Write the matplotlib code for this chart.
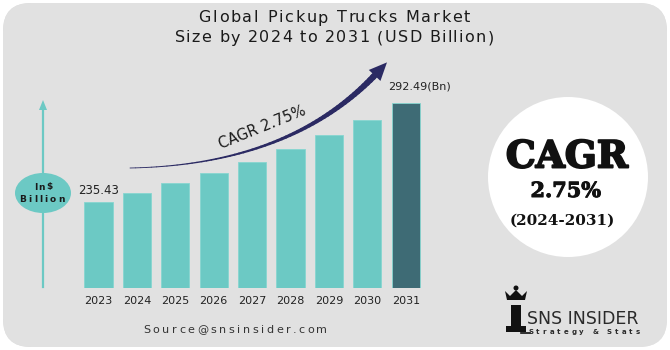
import numpy as np
import matplotlib
matplotlib.use("Agg")
import matplotlib.pyplot as plt
import matplotlib.patheffects as pe
from matplotlib.font_manager import FontProperties
from matplotlib.patches import FancyBboxPatch, Ellipse, Circle, Polygon, Rectangle

# data
years = ["2023", "2024", "2025", "2026", "2027", "2028", "2029", "2030", "2031"]
values = [235.43, 240.6, 246.3, 252.1, 258.4, 265.9, 274.0, 282.6, 292.49]
first_label = "235.43"
last_label = "292.49(Bn)"

title_lines = ["Global Pickup Trucks Market", "Size by 2024 to 2031 (USD Billion)"]
cagr_text = "CAGR 2.75%"
source = "Source@snsinsider.com"

TEAL = "#6cc9c4"
DARK = "#3e6b75"
NAVY = "#2b2a63"

W, H = 670, 350
fig = plt.figure(figsize=(6.7, 3.5), dpi=100)
fig.patch.set_facecolor("white")
renderer = fig.canvas.get_renderer()

# full-figure overlay in pixel coordinates (y downward)
ov = fig.add_axes([0, 0, 1, 1], zorder=0)
ov.set_xlim(0, W)
ov.set_ylim(H, 0)
ov.axis("off")


def tracked(xc, y, s, track, size, color="#1a1a1a", weight="normal", family="DejaVu Sans", z=3):
    """draw text centred at xc with extra letter spacing (pixels)"""
    prop = FontProperties(family=family, size=size, weight=weight)
    def wid(t):
        if not t:
            return 0.0
        w, _, _ = renderer.get_text_width_height_descent(t.replace(" ", "\u00a0"), prop, ismath=False)
        return w
    total = wid(s) + track * (len(s) - 1)
    x0 = xc - total / 2
    for i, ch in enumerate(s):
        ov.text(x0 + wid(s[:i]) + i * track, y, ch, ha="left", va="center",
                fontproperties=prop, color=color, zorder=z)


# rounded grey card with a soft gradient
card = FancyBboxPatch((3, 3), W - 6, H - 6, boxstyle="round,pad=0,rounding_size=28",
                      fc="#e1e1e1", ec="none")
ov.add_patch(card)
gx, gy = np.meshgrid(np.linspace(0, 1, 200), np.linspace(0, 1, 100))
shade = 0.865 + 0.05 * np.exp(-((gx - 0.62) ** 2 / 0.05 + (gy - 0.25) ** 2 / 0.3)) \
        + 0.04 * np.exp(-((gx - 0.85) ** 2 / 0.03 + (gy - 0.9) ** 2 / 0.1))
img = ov.imshow(shade, cmap="gray", vmin=0, vmax=1, extent=(0, W, H, 0), aspect="auto", zorder=0.5)
img.set_clip_path(card)

# title
tracked(334, 18, title_lines[0], 1.8, 11.5)
tracked(334, 38, title_lines[1], 1.3, 11.5)

# left axis line with arrow and unit bubble
ov.plot([43, 43], [287, 108], color=TEAL, lw=1.6, zorder=2)
ov.add_patch(Polygon([[39, 110], [47, 110], [43, 100]], closed=True, fc=TEAL, ec="none", zorder=2))
ov.add_patch(Ellipse((43, 193), 56, 40, fc=TEAL, ec="none", zorder=3))
tracked(43, 187, "In$", 1.2, 6.5, weight="bold", z=4)
tracked(42, 199, "Billion", 2.2, 6.5, weight="bold", z=4)

# growth arrow (quadratic curve, tapering)
p0, p1, p2 = np.array([130, 168]), np.array([290, 165]), np.array([376, 74])
t = np.linspace(0, 1, 60)
pts = ((1 - t) ** 2)[:, None] * p0 + (2 * (1 - t) * t)[:, None] * p1 + (t ** 2)[:, None] * p2
for i in range(len(pts) - 1):
    ov.plot(pts[i:i + 2, 0], pts[i:i + 2, 1], color=NAVY, lw=0.6 + 4.0 * t[i] ** 1.5,
            solid_capstyle="round", zorder=2)
d = p2 - p1
d = d / np.hypot(*d)
n = np.array([-d[1], d[0]])
tip = p2 + d * 16
ov.add_patch(Polygon([tip, p2 + n * 8 - d * 2, p2 - n * 8 - d * 2], closed=True, fc=NAVY, ec="none", zorder=2))
ov.text(262, 127, cagr_text, ha="center", va="center", rotation=22, fontsize=10.5,
        color="#1a1a1a", zorder=3)

# CAGR circle
heavy = [pe.withStroke(linewidth=1.4, foreground="#111111")]
ov.add_patch(Circle((568, 177), 80, fc="white", ec="none", zorder=2))
ov.text(567, 157, "CAGR", ha="center", va="center", fontsize=27, weight="bold",
        family="DejaVu Serif", color="#111111", zorder=3, path_effects=heavy)
ov.text(566, 191, "2.75%", ha="center", va="center", fontsize=15, weight="bold",
        family="DejaVu Serif", color="#111111", zorder=3,
        path_effects=[pe.withStroke(linewidth=0.7, foreground="#111111")])
ov.text(562, 221, "(2024-2031)", ha="center", va="center", fontsize=11, weight="bold",
        family="DejaVu Serif", color="#111111", zorder=3)

# source line with wide tracking
tracked(235, 330, source, 2.6, 8, color="#333333")

# logo
ov.add_patch(Rectangle((511, 305), 10, 26, fc="#111111", ec="none", zorder=3))
ov.add_patch(Rectangle((506, 326), 20, 6, fc="#111111", ec="none", zorder=3))
ov.add_patch(Polygon([[507, 300], [525, 300], [527, 291], [522, 296], [516, 290], [510, 296], [505, 291]],
                     closed=True, fc="#111111", ec="none", zorder=3))
ov.add_patch(Circle((516, 288), 2.5, fc="#111111", ec="none", zorder=3))
ov.plot([521, 530], [333, 333], color="#111111", lw=1.2, zorder=3)
ov.text(527, 319, "SNS INSIDER", ha="left", va="center", fontsize=12.5, color="#2a2a2a", zorder=3)
tracked(584, 332, "Strategy & Stats", 3.0, 5, weight="bold", color="#2a2a2a")

# bar chart axes positioned in pixels
step_px = 38.4
left_px = 98.5 - 0.5 * step_px
width_px = 9 * step_px
base_px, top_px = 288, 60
px_per_unit = 1.735
ymin = 235.43 - (base_px - 202) / px_per_unit
ymax = ymin + (base_px - top_px) / px_per_unit
ax = fig.add_axes([left_px / W, (H - base_px) / H, width_px / W, (base_px - top_px) / H], zorder=1)
ax.patch.set_alpha(0)
x = np.arange(len(years))
colors = [TEAL] * (len(years) - 1) + [DARK]
ax.bar(x, values, bottom=0, width=0.73, color=colors, edgecolor="#86d6d0", linewidth=0.6)
ax.set_xlim(-0.5, len(years) - 0.5)
ax.set_ylim(ymin, ymax)
for s in ax.spines.values():
    s.set_visible(False)
ax.set_yticks([])
ax.set_xticks(x)
ax.set_xticklabels(years, fontsize=8, color="#222222")
ax.tick_params(axis="x", length=0, pad=6)
ax.text(x[0], values[0] + 3, first_label, ha="center", va="bottom", fontsize=8.5, color="#222222")
ax.text(x[-1] - 0.45, values[-1] + 6.5, last_label, ha="left", va="bottom", fontsize=8, color="#222222")

fig.savefig("out.png", dpi=100)
